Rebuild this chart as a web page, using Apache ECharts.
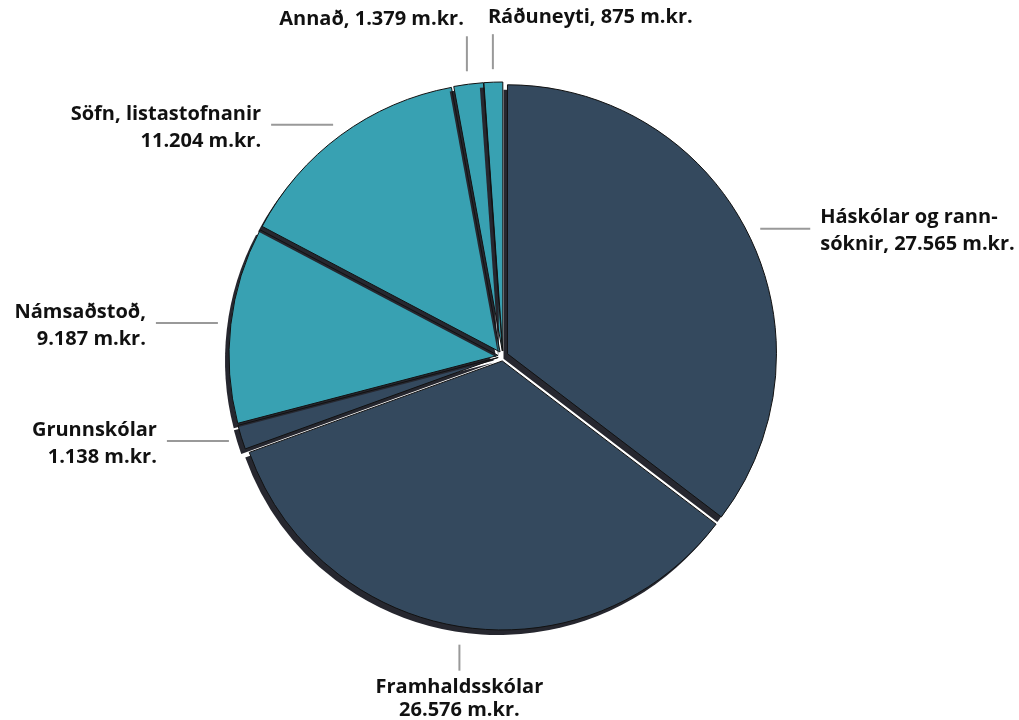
<!DOCTYPE html>
<html><head><meta charset="utf-8">
<script src="https://cdn.jsdelivr.net/npm/echarts@6/dist/echarts.min.js"></script>
<style>html,body{margin:0;background:#fff}#c{width:1019px;height:720px}</style>
</head><body><div id="c"></div>
<script>
// ---- data ----
const categories = ['Háskólar og rannsóknir', 'Framhaldsskólar', 'Grunnskólar', 'Námsaðstoð', 'Söfn, listastofnanir', 'Annað', 'Ráðuneyti'];
const values = [27565, 26576, 1138, 9187, 11204, 1379, 875];
const labelTemplates = [
  'Háskólar og rann-\nsóknir, {v} m.kr.',
  'Framhaldsskólar\n{v} m.kr.',
  'Grunnskólar\n{v} m.kr.',
  'Námsaðstoð,\n{v} m.kr.',
  'Söfn, listastofnanir\n{v} m.kr.',
  'Annað, {v} m.kr.',
  'Ráðuneyti, {v} m.kr.'
];
// ---- styling ----
const DARK = '#34495e', TEAL = '#38a1b2';
const colors = [DARK, DARK, DARK, TEAL, TEAL, TEAL, TEAL];
const labelSide = ['right', 'bottom', 'left', 'left', 'left', 'topLeft', 'topRight'];
const CX = 503, CY = 356, RADIUS = 269, ANCHOR_R = 287;
const FONT = 'bold 20px "Open Sans"';

function fmt(n) { return String(n).replace(/\B(?=(\d{3})+(?!\d))/g, '.'); }

const total = values.reduce((a, b) => a + b, 0);
const mids = [];
let cum = 0;
values.forEach(v => { mids.push((cum + v / 2) / total * Math.PI * 2); cum += v; });

const graphics = [];
function addLine(x1, y1, x2, y2) {
  graphics.push({ type: 'line', silent: true, shape: { x1, y1, x2, y2 }, style: { stroke: '#999', lineWidth: 2 } });
}
function addText(x, y, text, align, vAlign, lh) {
  graphics.push({ type: 'text', silent: true, x, y, style: { text, font: FONT, fill: '#111', align, verticalAlign: vAlign, textAlign: align, textVerticalAlign: vAlign, lineHeight: lh || 27 } });
}
mids.forEach((a, i) => {
  const ax = CX + ANCHOR_R * Math.sin(a), ay = CY - ANCHOR_R * Math.cos(a);
  const text = labelTemplates[i].replace('{v}', fmt(values[i]));
  const s = labelSide[i];
  if (s === 'left') { addLine(ax, ay, ax - 62, ay); addText(ax - 72, ay + 3, text, 'right', 'middle'); }
  else if (s === 'right') { addLine(ax, ay, ax + 50, ay); addText(ax + 60, ay + 2, text, 'left', 'middle'); }
  else if (s === 'bottom') { addLine(ax, ay + 5, ax, ay + 31); addText(ax, ay + 36, text, 'center', 'top', 23); }
  else if (s === 'topLeft') { addLine(ax, ay, ax, ay - 35); addText(ax - 3, ay - 38, text, 'right', 'bottom'); }
  else { addLine(ax, ay, ax, ay - 35); addText(ax - 5, ay - 38, text, 'left', 'bottom'); }
});

const baseSeries = {
  type: 'pie',
  center: [CX, CY],
  radius: RADIUS,
  startAngle: 90,
  clockwise: true,
  selectedMode: 'multiple',
  selectedOffset: 5,
  emphasis: { disabled: true },
  label: { show: false },
  labelLine: { show: false }
};

const chart = echarts.init(document.getElementById('c'));
chart.setOption({
  backgroundColor: '#fff',
  animation: false,
  series: [
    Object.assign({}, baseSeries, {
      data: categories.map((c, i) => ({ name: c, value: values[i], selected: true, itemStyle: { color: colors[i] } })),
      itemStyle: { borderWidth: 0, shadowColor: '#26272f', shadowOffsetX: -4, shadowOffsetY: 5, shadowBlur: 0 },
      select: { itemStyle: { borderWidth: 0, shadowColor: '#26272f', shadowOffsetX: -4, shadowOffsetY: 5, shadowBlur: 0 } }
    }),
    Object.assign({}, baseSeries, {
      silent: true,
      data: categories.map((c, i) => ({ name: c, value: values[i], selected: true })),
      itemStyle: { color: 'rgba(0,0,0,0)', borderColor: '#111', borderWidth: 1 },
      select: { itemStyle: { color: 'rgba(0,0,0,0)', borderColor: '#111', borderWidth: 1 } }
    })
  ],
  graphic: graphics
});
</script></body></html>
